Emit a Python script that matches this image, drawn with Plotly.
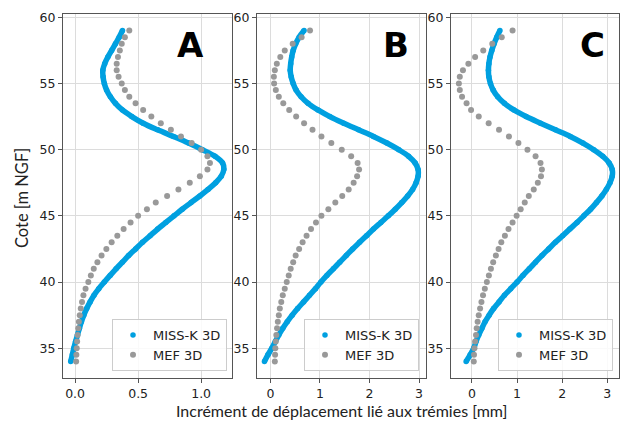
import plotly.graph_objects as go

# Elevation levels (m NGF)
cote = [34.0, 34.5, 35.0, 35.5, 36.0, 36.5, 37.0, 37.5, 38.0, 38.5, 39.0, 39.5,
        40.0, 40.5, 41.0, 41.5, 42.0, 42.5, 43.0, 43.5, 44.0, 44.5, 45.0, 45.5,
        46.0, 46.5, 47.0, 47.5, 48.0, 48.5, 49.0, 49.5, 50.0, 50.5, 51.0, 51.5,
        52.0, 52.5, 53.0, 53.5, 54.0, 54.5, 55.0, 55.5, 56.0, 56.5, 57.0, 57.5,
        58.0, 58.5, 59.0]

# Panel A
missk_A = [-0.035, -0.022, -0.01, 0.004, 0.019, 0.034, 0.05, 0.069, 0.092, 0.119, 0.15, 0.188,
           0.232, 0.278, 0.325, 0.375, 0.425, 0.48, 0.535, 0.595, 0.655, 0.72, 0.785, 0.85,
           0.92, 0.99, 1.055, 1.115, 1.16, 1.18, 1.17, 1.11, 1.01, 0.9, 0.78, 0.655,
           0.54, 0.45, 0.375, 0.32, 0.28, 0.25, 0.232, 0.222, 0.22, 0.235, 0.26, 0.29,
           0.32, 0.35, 0.376]
mef_A = [0.008, 0.01, 0.013, 0.016, 0.02, 0.025, 0.03, 0.037, 0.045, 0.055, 0.066, 0.083,
         0.105, 0.125, 0.148, 0.177, 0.21, 0.248, 0.29, 0.335, 0.385, 0.44, 0.5, 0.57,
         0.64, 0.73, 0.82, 0.91, 0.99, 1.05, 1.07, 1.05, 1.0, 0.925, 0.84, 0.76,
         0.68, 0.605, 0.54, 0.48, 0.43, 0.395, 0.37, 0.345, 0.33, 0.33, 0.34, 0.355,
         0.37, 0.395, 0.43]

# Panel B
missk_B = [-0.12, -0.05, 0.03, 0.1, 0.17, 0.25, 0.34, 0.44, 0.55, 0.67, 0.79, 0.91,
           1.02, 1.14, 1.27, 1.4, 1.53, 1.66, 1.8, 1.94, 2.08, 2.23, 2.38, 2.52,
           2.65, 2.77, 2.87, 2.94, 2.98, 2.98, 2.92, 2.79, 2.59, 2.35, 2.08, 1.78,
           1.48, 1.2, 0.96, 0.76, 0.62, 0.52, 0.46, 0.42, 0.40, 0.41, 0.43, 0.46,
           0.51, 0.58, 0.68]
mef_B = [0.09, 0.095, 0.1, 0.11, 0.12, 0.135, 0.15, 0.17, 0.19, 0.22, 0.25, 0.29,
         0.33, 0.37, 0.41, 0.46, 0.51, 0.58, 0.65, 0.73, 0.82, 0.92, 1.03, 1.17,
         1.31, 1.45, 1.58, 1.68, 1.75, 1.79, 1.76, 1.63, 1.44, 1.23, 1.03, 0.85,
         0.68, 0.52, 0.38, 0.26, 0.17, 0.11, 0.075, 0.07, 0.09, 0.13, 0.2, 0.29,
         0.45, 0.63, 0.8]

# Panel C
missk_C = [-0.13, -0.04, 0.04, 0.09, 0.15, 0.22, 0.29, 0.38, 0.48, 0.6, 0.72, 0.86,
           1.0, 1.13, 1.27, 1.41, 1.55, 1.7, 1.85, 2.01, 2.17, 2.33, 2.48, 2.63,
           2.76, 2.88, 2.98, 3.06, 3.11, 3.11, 3.04, 2.9, 2.7, 2.46, 2.18, 1.85,
           1.52, 1.2, 0.93, 0.72, 0.57, 0.47, 0.41, 0.375, 0.365, 0.375, 0.4, 0.44,
           0.49, 0.55, 0.62]
mef_C = [0.04, 0.045, 0.055, 0.07, 0.09, 0.105, 0.125, 0.15, 0.18, 0.21, 0.245, 0.285,
         0.33, 0.375, 0.42, 0.47, 0.53, 0.59, 0.65, 0.73, 0.81, 0.9, 0.99, 1.08,
         1.17, 1.26, 1.37, 1.46, 1.53, 1.55, 1.52, 1.41, 1.23, 1.03, 0.82, 0.6,
         0.37, 0.15, -0.02, -0.12, -0.22, -0.27, -0.29, -0.27, -0.2, -0.08, 0.07, 0.25,
         0.45, 0.66, 0.9]

panel_labels = ["A", "B", "C"]
series_names = ["MISS-K 3D", "MEF 3D"]
x_ranges = [[-0.096, 1.245], [-0.27, 3.14], [-0.465, 3.26]]
x_ticks = [[0.0, 0.5, 1.0], [0, 1, 2, 3], [0, 1, 2, 3]]
x_ticktext = [["0.0", "0.5", "1.0"], ["0", "1", "2", "3"], ["0", "1", "2", "3"]]
y_ticks = [35, 40, 45, 50, 55, 60]

BLUE = "#00A0E0"
GRAY = "#999999"

# Layout geometry (pixels)
W, H = 620, 432
L, R, T, B = 63, 1, 14, 54
PW = W - L - R
PH = H - T - B
panels_px = [(63, 232), (257, 426), (451, 619)]


def px_x(px):
    return (px - L) / PW


def px_y(py):
    return (H - B - py) / PH


fig = go.Figure()
data = [(missk_A, mef_A), (missk_B, mef_B), (missk_C, mef_C)]
legend_names = ["legend", "legend2", "legend3"]

for i, (mk, mef) in enumerate(data):
    xa = "x" if i == 0 else f"x{i+1}"
    ya = "y" if i == 0 else f"y{i+1}"
    lg = legend_names[i]
    fig.add_trace(go.Scatter(x=mk, y=cote, mode="lines", xaxis=xa, yaxis=ya,
                             line=dict(color=BLUE, width=5.5, shape="spline"),
                             showlegend=False, hoverinfo="skip"))
    fig.add_trace(go.Scatter(x=mk, y=cote, mode="markers", xaxis=xa, yaxis=ya,
                             name=series_names[0], legend=lg,
                             marker=dict(color=BLUE, size=5.5)))
    fig.add_trace(go.Scatter(x=mef, y=cote, mode="markers", xaxis=xa, yaxis=ya,
                             name=series_names[1], legend=lg,
                             marker=dict(color=GRAY, size=6)))

tick_font = dict(family="DejaVu Sans", size=12.5, color="#222222")
axis_common = dict(showgrid=True, gridcolor="#dcdcdc", gridwidth=1,
                   showline=True, linecolor="#555555", linewidth=1, mirror=True,
                   ticks="outside", ticklen=4, tickcolor="#555555", tickwidth=1,
                   zeroline=False, tickfont=tick_font)

layout = dict(width=W, height=H, margin=dict(l=L, r=R, t=T, b=B),
              plot_bgcolor="white", paper_bgcolor="white")

for i, (x0, x1) in enumerate(panels_px):
    xkey = "xaxis" if i == 0 else f"xaxis{i+1}"
    ykey = "yaxis" if i == 0 else f"yaxis{i+1}"
    xa = "x" if i == 0 else f"x{i+1}"
    ya = "y" if i == 0 else f"y{i+1}"
    layout[xkey] = dict(domain=[px_x(x0), px_x(x1)], range=x_ranges[i], anchor=ya,
                        tickmode="array", tickvals=x_ticks[i], ticktext=x_ticktext[i],
                        **axis_common)
    layout[ykey] = dict(domain=[0, 1], range=[32.75, 60.25], anchor=xa,
                        tickmode="array", tickvals=y_ticks, **axis_common)

legend_right_px = [227, 419, 613]
for i, lg in enumerate(legend_names):
    layout[lg] = dict(x=px_x(legend_right_px[i]), y=px_y(371), xanchor="right", yanchor="bottom",
                      bgcolor="rgba(255,255,255,0.85)", bordercolor="#cccccc", borderwidth=1,
                      font=dict(family="DejaVu Sans", size=13, color="#222222"),
                      itemsizing="trace", tracegroupgap=0)

fig.update_layout(**layout)

letter_px = [190.5, 396, 592.5]
for i, lab in enumerate(panel_labels):
    fig.add_annotation(text=f"<b>{lab}</b>", x=px_x(letter_px[i]), y=px_y(45),
                       xref="paper", yref="paper", showarrow=False,
                       xanchor="center", yanchor="middle",
                       font=dict(family="DejaVu Sans", size=34, color="black"))

fig.add_annotation(text="Incrément de déplacement lié aux trémies [mm]",
                   x=px_x(341), y=px_y(411), xref="paper", yref="paper", showarrow=False,
                   xanchor="center", yanchor="middle",
                   font=dict(family="Lato", size=16, color="#222222"))
fig.add_annotation(text="Cote [m NGF]", textangle=-90,
                   x=px_x(22), y=px_y(198), xref="paper", yref="paper", showarrow=False,
                   xanchor="center", yanchor="middle",
                   font=dict(family="Lato", size=16.5, color="#222222"))

fig.write_html("out.html")
